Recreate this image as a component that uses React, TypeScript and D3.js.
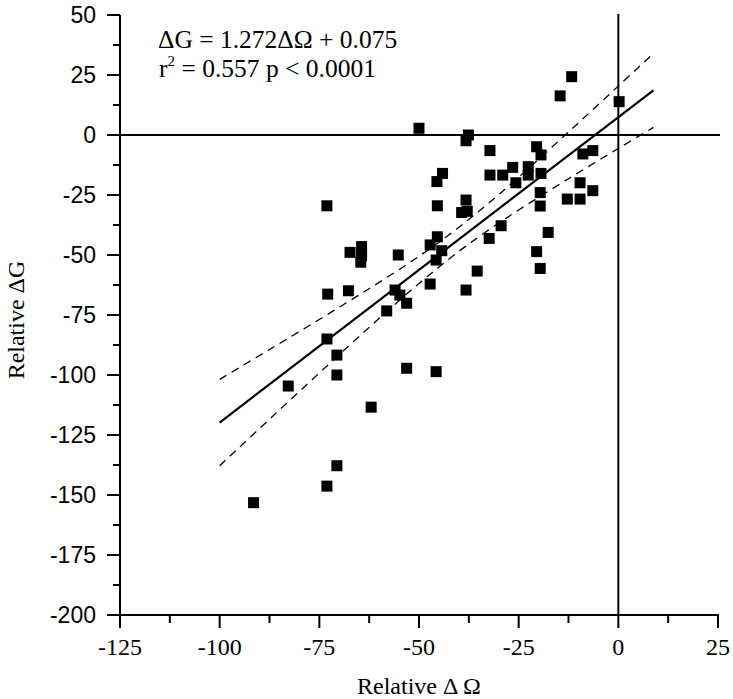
import React from "react";
import * as d3 from "d3";

// Scatter data: relative ΔΩ (x) and relative ΔG (y)
const xValues = [
  -73.1, -67.3, -64.4, -64.4, -64.6, -72.9, -67.7, -73.1, -70.6, -70.6,
  -82.8, -62.0, -70.6, -73.1, -91.5, -53.1, -45.7, -11.7, -14.6, 0.2,
  -50.0, -37.6, -38.2, -32.2, -20.5, -19.4, -8.9, -6.4, -44.1, -45.5,
  -32.2, -29.0, -26.5, -25.7, -22.6, -22.6, -19.4, -45.4, -38.2, -39.3,
  -37.9, -19.6, -19.6, -9.6, -6.4, -12.8, -9.6, -17.6, -29.4, -32.4,
  -20.5, -19.6, -35.4, -38.2, -45.4, -47.2, -44.3, -45.7, -55.2, -47.2,
  -56.0, -54.8, -53.1, -58.1,
];
const yValues = [
  -29.5, -48.9, -46.5, -50.3, -53.0, -66.3, -64.9, -85.0, -91.7, -100.0,
  -104.6, -113.4, -137.8, -146.3, -153.2, -97.2, -98.6, 24.3, 16.3, 13.9,
  2.8, 0.0, -2.4, -6.5, -4.9, -8.3, -7.9, -6.5, -16.0, -19.4,
  -16.7, -16.7, -13.5, -19.9, -13.2, -16.7, -16.0, -29.5, -27.1, -32.3,
  -31.8, -24.0, -29.6, -19.9, -23.2, -26.7, -26.7, -40.6, -37.8, -43.1,
  -48.6, -55.6, -56.7, -64.6, -42.4, -45.8, -48.2, -52.1, -50.0, -62.1,
  -64.6, -66.7, -70.1, -73.3,
];

// Regression line (as drawn) and confidence band
const fitX = [-100, 8.8];
const fitY = [-119.8, 18.6];
const bandX = [-100, -88, -75, -62, -50, -41, -33, -25, -12, 0, 8.8];
const bandUpper = [-101.8, -89.9, -76.85, -63.5, -50.55, -39.75, -29.06, -17.54, 2.0, 20.4, 34.0];
const bandLower = [-137.8, -119.2, -99.15, -79.4, -61.85, -49.75, -40.1, -31.26, -17.7, -5.6, 3.16];

const xTicks = [-125, -100, -75, -50, -25, 0, 25];
const yTicks = [50, 25, 0, -25, -50, -75, -100, -125, -150, -175, -200];

export default function App() {
  const W = 733, H = 699;
  const x = d3.scaleLinear().domain([-125, 25]).range([120, 718]);
  const y = d3.scaleLinear().domain([-200, 50]).range([615, 15]);
  const serif = "'Liberation Serif', 'Times New Roman', serif";
  const sans = "'Liberation Sans', Arial, sans-serif";

  const minorX = d3.range(-125, 25.01, 12.5).filter((v) => !xTicks.includes(v));
  const minorY = d3.range(-200, 50.01, 12.5).filter((v) => !yTicks.includes(v));

  const lineGen = d3
    .line<[number, number]>()
    .x((d) => x(d[0]))
    .y((d) => y(d[1]));
  const bandGen = d3
    .line<[number, number]>()
    .x((d) => x(d[0]))
    .y((d) => y(d[1]))
    .curve(d3.curveCatmullRom);

  const fitPts: [number, number][] = fitX.map((v, i) => [v, fitY[i]]);
  const upPts: [number, number][] = bandX.map((v, i) => [v, bandUpper[i]]);
  const loPts: [number, number][] = bandX.map((v, i) => [v, bandLower[i]]);

  const S = 11;

  return (
    <svg
      width={W}
      height={H}
      style={{ position: "absolute", left: 0, top: 0, background: "#fff" }}
    >
      <rect x={0} y={0} width={W} height={H} fill="#fff" />
      {/* zero reference lines */}
      <line x1={x(-125)} x2={x(25) + 2} y1={y(0)} y2={y(0)} stroke="#000" strokeWidth={2} />
      <line x1={x(0)} x2={x(0)} y1={y(50) - 1} y2={y(-200)} stroke="#000" strokeWidth={2} />

      {/* axes */}
      <line x1={x(-125)} x2={x(-125)} y1={y(50)} y2={y(-200) + 1} stroke="#000" strokeWidth={2} />
      <line x1={x(-125) - 1} x2={x(25) + 1} y1={y(-200)} y2={y(-200)} stroke="#000" strokeWidth={2} />

      {yTicks.map((t) => (
        <g key={"yt" + t}>
          <line x1={x(-125) - 13} x2={x(-125)} y1={y(t)} y2={y(t)} stroke="#000" strokeWidth={2} />
          <text
            x={96}
            y={y(t) + 8}
            textAnchor="end"
            fontFamily={sans}
            fontSize={23}
            fill="#000"
          >
            {t}
          </text>
        </g>
      ))}
      {minorY.map((t) => (
        <line key={"ym" + t} x1={x(-125) - 7} x2={x(-125)} y1={y(t)} y2={y(t)} stroke="#000" strokeWidth={2} />
      ))}
      {xTicks.map((t) => (
        <g key={"xt" + t}>
          <line x1={x(t)} x2={x(t)} y1={y(-200)} y2={y(-200) + 13} stroke="#000" strokeWidth={2} />
          <text
            x={x(t)}
            y={655}
            textAnchor="middle"
            fontFamily={serif}
            fontSize={24}
            fill="#000"
          >
            {t}
          </text>
        </g>
      ))}
      {minorX.map((t) => (
        <line key={"xm" + t} x1={x(t)} x2={x(t)} y1={y(-200)} y2={y(-200) + 8} stroke="#000" strokeWidth={2} />
      ))}

      {/* confidence band */}
      <path d={bandGen(upPts) || ""} fill="none" stroke="#000" strokeWidth={1.3} strokeDasharray="8,6" />
      <path d={bandGen(loPts) || ""} fill="none" stroke="#000" strokeWidth={1.3} strokeDasharray="8,6" />
      {/* fit line */}
      <path d={lineGen(fitPts) || ""} fill="none" stroke="#000" strokeWidth={2.2} />

      {/* points */}
      {xValues.map((v, i) => (
        <rect
          key={"p" + i}
          x={x(v) - S / 2}
          y={y(yValues[i]) - S / 2}
          width={S}
          height={S}
          fill="#000"
        />
      ))}

      {/* equation */}
      <text x={158} y={48} fontFamily={serif} fontSize={25.5} fill="#000">
        ΔG = 1.272ΔΩ + 0.075
      </text>
      <text x={159} y={77} fontFamily={serif} fontSize={25.5} fill="#000">
        r
        <tspan fontSize={15} dy={-11}>2</tspan>
        <tspan dy={11}> = 0.557 p &lt; 0.0001</tspan>
      </text>

      {/* axis titles */}
      <text
        x={419}
        y={694}
        textAnchor="middle"
        fontFamily={serif}
        fontSize={24}
        fill="#000"
      >
        Relative Δ Ω
      </text>
      <text
        transform={`translate(24, 320) rotate(-90)`}
        textAnchor="middle"
        fontFamily={serif}
        fontSize={24}
        fill="#000"
      >
        Relative ΔG
      </text>
    </svg>
  );
}
